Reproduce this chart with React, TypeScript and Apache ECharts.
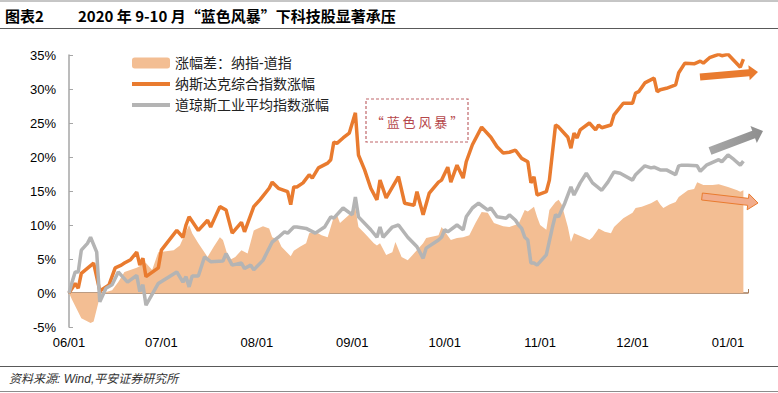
import React, { useEffect, useRef } from 'react';
import * as echarts from 'echarts';

const AREA_NAME = '涨幅差：纳指-道指';
const NASDAQ_NAME = '纳斯达克综合指数涨幅';
const DOW_NAME = '道琼斯工业平均指数涨幅';

const nasdaqDates = [
  '2020-06-01','2020-06-03','2020-06-04','2020-06-05','2020-06-09','2020-06-11','2020-06-14','2020-06-16','2020-06-18','2020-06-19',
  '2020-06-21','2020-06-23','2020-06-24','2020-06-25','2020-06-26','2020-06-30','2020-07-01','2020-07-06','2020-07-08','2020-07-09',
  '2020-07-10','2020-07-13','2020-07-16','2020-07-17','2020-07-20','2020-07-22','2020-07-24','2020-07-27','2020-07-28','2020-07-31',
  '2020-08-02','2020-08-05','2020-08-06','2020-08-08','2020-08-11','2020-08-12','2020-08-13','2020-08-14','2020-08-16','2020-08-18',
  '2020-08-19','2020-08-21','2020-08-24','2020-08-25','2020-08-26','2020-08-27','2020-08-29','2020-08-31','2020-09-02','2020-09-03',
  '2020-09-05','2020-09-07','2020-09-09','2020-09-10','2020-09-12','2020-09-16','2020-09-18','2020-09-21','2020-09-22','2020-09-24',
  '2020-09-26','2020-09-29','2020-09-30','2020-10-02','2020-10-03','2020-10-05','2020-10-07','2020-10-08','2020-10-10','2020-10-13',
  '2020-10-16','2020-10-18','2020-10-20','2020-10-22','2020-10-24','2020-10-26','2020-10-28','2020-10-29','2020-10-30','2020-10-31',
  '2020-11-03','2020-11-04','2020-11-06','2020-11-07','2020-11-10','2020-11-11','2020-11-12','2020-11-13','2020-11-14','2020-11-17',
  '2020-11-19','2020-11-20','2020-11-21','2020-11-24','2020-11-25','2020-11-28','2020-12-01','2020-12-02','2020-12-03','2020-12-05',
  '2020-12-08','2020-12-09','2020-12-10','2020-12-12','2020-12-15','2020-12-16','2020-12-18','2020-12-21','2020-12-23','2020-12-24',
  '2020-12-26','2020-12-29','2020-12-30','2021-01-01','2021-01-05','2021-01-06'
];
const nasdaqValues = [
  0.0, 1.4, 0.7, 2.9, 4.4, 0.3, 1.2, 3.7, 4.1, 4.4,
  4.9, 6.0, 4.1, 5.1, 2.4, 3.7, 6.3, 9.2, 8.2, 10.0,
  11.2, 9.2, 10.7, 9.7, 12.7, 12.2, 8.8, 10.4, 9.0, 12.7,
  13.7, 15.4, 16.3, 15.4, 14.9, 13.0, 15.6, 15.6, 16.2, 17.4,
  16.9, 18.4, 19.1, 19.6, 22.2, 22.0, 22.8, 23.5, 26.5, 20.3,
  18.1, 15.4, 13.7, 16.6, 14.0, 17.1, 13.2, 12.9, 14.9, 11.5,
  14.7, 16.3, 16.6, 18.5, 16.3, 18.8, 16.9, 19.3, 21.8, 24.4,
  22.9, 21.5, 20.6, 20.7, 21.0, 19.8, 19.3, 16.2, 17.1, 14.4,
  14.9, 16.6, 24.7, 24.4, 22.9, 21.3, 23.5, 22.8, 24.0, 25.0,
  24.0, 24.7, 24.3, 24.7, 26.2, 27.9, 27.9, 29.4, 29.6, 30.9,
  31.6, 29.6, 29.9, 30.1, 30.6, 32.4, 33.8, 33.7, 34.1, 33.8,
  34.6, 35.1, 34.9, 35.1, 33.2, 34.4
];

const dowDates = [
  '2020-06-01','2020-06-02','2020-06-03','2020-06-04','2020-06-05','2020-06-07','2020-06-08','2020-06-10','2020-06-11','2020-06-13',
  '2020-06-15','2020-06-17','2020-06-18','2020-06-20','2020-06-23','2020-06-24','2020-06-25','2020-06-26','2020-06-30','2020-07-06',
  '2020-07-08','2020-07-09','2020-07-10','2020-07-11','2020-07-13','2020-07-15','2020-07-17','2020-07-21','2020-07-22','2020-07-24',
  '2020-07-27','2020-07-28','2020-07-30','2020-07-31','2020-08-03','2020-08-06','2020-08-08','2020-08-10','2020-08-11','2020-08-13',
  '2020-08-14','2020-08-17','2020-08-20','2020-08-23','2020-08-25','2020-08-26','2020-08-29','2020-09-01','2020-09-02','2020-09-03',
  '2020-09-07','2020-09-09','2020-09-10','2020-09-11','2020-09-14','2020-09-16','2020-09-19','2020-09-22','2020-09-24','2020-09-25',
  '2020-09-29','2020-09-30','2020-10-01','2020-10-02','2020-10-05','2020-10-07','2020-10-08','2020-10-10','2020-10-12','2020-10-15',
  '2020-10-16','2020-10-18','2020-10-21','2020-10-22','2020-10-24','2020-10-25','2020-10-26','2020-10-27','2020-10-28','2020-10-29',
  '2020-10-30','2020-10-31','2020-11-03','2020-11-05','2020-11-06','2020-11-07','2020-11-09','2020-11-11','2020-11-12','2020-11-14',
  '2020-11-16','2020-11-18','2020-11-21','2020-11-23','2020-11-25','2020-11-27','2020-12-01','2020-12-02','2020-12-05','2020-12-07',
  '2020-12-08','2020-12-10','2020-12-12','2020-12-15','2020-12-16','2020-12-17','2020-12-19','2020-12-22','2020-12-23','2020-12-25',
  '2020-12-29','2020-12-30','2021-01-01','2021-01-03','2021-01-05','2021-01-06'
];
const dowValues = [
  0.0, 1.6, 3.1, 3.1, 6.3, 7.3, 8.2, 6.0, -1.3, 0.7,
  1.2, 3.1, 2.6, 1.6, 2.6, 0.2, 1.2, -1.8, 1.4, 3.1,
  1.6, 2.4, 0.9, 2.5, 2.5, 5.3, 4.6, 4.7, 5.8, 4.1,
  4.4, 3.6, 4.1, 3.4, 4.8, 7.5, 8.2, 9.0, 8.8, 9.7,
  9.7, 9.5, 8.8, 9.7, 11.2, 11.0, 12.5, 11.5, 14.1, 11.2,
  9.3, 8.2, 9.7, 8.2, 9.7, 10.0, 8.2, 6.8, 5.1, 6.6,
  7.8, 8.2, 9.3, 9.0, 10.0, 9.3, 11.2, 12.5, 13.2, 12.2,
  12.5, 11.2, 11.0, 11.5, 10.7, 10.0, 9.5, 8.2, 7.8, 4.4,
  4.4, 4.1, 5.6, 9.7, 11.5, 11.2, 13.2, 15.6, 14.4, 16.2,
  17.6, 16.2, 15.1, 16.3, 17.8, 17.6, 16.6, 17.4, 18.7, 18.4,
  18.5, 18.1, 18.1, 17.4, 18.7, 18.8, 18.8, 18.7, 17.9, 18.8,
  19.6, 19.3, 20.3, 19.6, 18.8, 19.4
];

const spreadDates = [
  '2020-06-01','2020-06-02','2020-06-05','2020-06-08','2020-06-09','2020-06-11','2020-06-12','2020-06-15','2020-06-17','2020-06-19',
  '2020-06-23','2020-06-26','2020-06-28','2020-06-30','2020-07-05','2020-07-07','2020-07-10','2020-07-11','2020-07-13','2020-07-16',
  '2020-07-18','2020-07-20','2020-07-21','2020-07-23','2020-07-25','2020-07-27','2020-07-29','2020-07-31','2020-08-03','2020-08-05',
  '2020-08-06','2020-08-08','2020-08-09','2020-08-12','2020-08-13','2020-08-15','2020-08-17','2020-08-18','2020-08-20','2020-08-22',
  '2020-08-24','2020-08-26','2020-08-27','2020-08-28','2020-08-31','2020-09-02','2020-09-03','2020-09-05','2020-09-08','2020-09-09',
  '2020-09-10','2020-09-12','2020-09-14','2020-09-15','2020-09-17','2020-09-19','2020-09-21','2020-09-24','2020-09-25','2020-09-29',
  '2020-09-30','2020-10-03','2020-10-05','2020-10-07','2020-10-09','2020-10-11','2020-10-13','2020-10-15','2020-10-17','2020-10-20',
  '2020-10-22','2020-10-25','2020-10-27','2020-10-28','2020-10-30','2020-10-31','2020-11-01','2020-11-03','2020-11-04','2020-11-06',
  '2020-11-07','2020-11-08','2020-11-10','2020-11-11','2020-11-12','2020-11-15','2020-11-17','2020-11-18','2020-11-20','2020-11-22',
  '2020-11-24','2020-11-25','2020-11-28','2020-12-01','2020-12-02','2020-12-04','2020-12-07','2020-12-09','2020-12-10','2020-12-11',
  '2020-12-13','2020-12-15','2020-12-16','2020-12-19','2020-12-21','2020-12-22','2020-12-24','2020-12-27','2020-12-29','2021-01-01',
  '2021-01-04','2021-01-05','2021-01-06'
];
const spreadValues = [
  0.0, -1.0, -3.7, -4.4, -4.2, -0.6, 0.0, 0.4, 1.6, 3.1,
  3.7, 4.4, 3.4, 6.0, 6.3, 7.0, 10.0, 8.8, 7.3, 5.3,
  6.8, 8.2, 7.8, 4.8, 5.3, 6.3, 5.8, 9.2, 9.8, 9.5,
  8.2, 7.8, 6.8, 5.4, 6.2, 6.8, 7.3, 8.8, 9.0, 8.5,
  8.2, 11.2, 11.5, 10.3, 11.5, 12.5, 9.7, 8.8, 7.3, 7.0,
  7.3, 5.6, 6.0, 7.5, 5.3, 4.8, 5.8, 7.3, 8.1, 8.5,
  9.7, 7.8, 8.1, 8.2, 8.5, 10.3, 11.9, 11.8, 10.3, 9.8,
  9.7, 10.2, 12.2, 12.0, 12.7, 11.2, 10.0, 9.3, 12.2, 13.4,
  13.7, 13.0, 9.7, 7.5, 8.8, 8.2, 7.8, 8.2, 9.5, 9.0,
  8.8, 9.7, 11.0, 11.8, 12.5, 12.7, 13.2, 13.7, 13.0, 12.5,
  13.0, 13.4, 14.1, 15.1, 15.3, 16.3, 15.9, 15.9, 16.0, 15.6,
  15.1, 14.9, 15.1
];

const yMin = -5;
const yMax = 35;
const yStep = 5;
const xMin = '2020-06-01';
const xMax = '2021-01-07 12:00';

const FONT = '"Liberation Sans", Arial, "Noto Sans CJK SC", sans-serif';
const CJK = '"Liberation Sans", "Noto Sans CJK SC", sans-serif';
const CJK_FIRST = '"Noto Sans CJK SC", sans-serif';

function pair(dates: string[], values: number[]) {
  return dates.map((d, i) => [d, values[i]]);
}

function arrowPts(x1: number, y1: number, x2: number, y2: number, w: number, hw: number, hl: number) {
  const dx = x2 - x1, dy = y2 - y1;
  const L = Math.hypot(dx, dy);
  const ux = dx / L, uy = dy / L;
  const nx = -uy, ny = ux;
  const bx = x2 - ux * hl, by = y2 - uy * hl;
  return [
    [x1 + nx * w / 2, y1 + ny * w / 2],
    [bx + nx * w / 2, by + ny * w / 2],
    [bx + nx * hw / 2, by + ny * hw / 2],
    [x2, y2],
    [bx - nx * hw / 2, by - ny * hw / 2],
    [bx - nx * w / 2, by - ny * w / 2],
    [x1 - nx * w / 2, y1 - ny * w / 2],
  ];
}

export default function App() {
  const ref = useRef<HTMLDivElement>(null);
  useEffect(() => {
    document.body.style.margin = '0';
    const chart = echarts.init(ref.current!, undefined, { renderer: 'svg' });
    const DAY = 86400000;
    const option: any = {
      animation: false,
      backgroundColor: '#fff',
      grid: { left: 69, right: 30, top: 55, bottom: 66, containLabel: false },
      legend: {
        orient: 'vertical',
        left: 125,
        top: 51,
        itemWidth: 38,
        itemHeight: 11,
        itemGap: 7,
        textStyle: { fontSize: 14, color: '#222', fontFamily: CJK },
        data: [
          { name: AREA_NAME, icon: 'roundRect' },
          { name: NASDAQ_NAME, itemStyle: { opacity: 0 }, lineStyle: { width: 4 } },
          { name: DOW_NAME, itemStyle: { opacity: 0 }, lineStyle: { width: 4 } },
        ],
      },
      xAxis: [
        {
          type: 'time',
          min: xMin,
          max: xMax,
          minInterval: 28 * DAY,
          maxInterval: 31 * DAY,
          axisLine: { onZero: true, lineStyle: { color: '#A57B5A', width: 1.5 } },
          axisTick: { show: true, inside: true, length: 4, lineStyle: { color: '#A57B5A' } },
          axisLabel: { show: false },
          splitLine: { show: false },
        },
        {
          type: 'time',
          position: 'bottom',
          min: xMin,
          max: xMax,
          minInterval: 28 * DAY,
          maxInterval: 31 * DAY,
          axisLine: { show: false, onZero: false },
          axisTick: { show: false },
          axisLabel: {
            formatter: '{MM}/{dd}',
            fontSize: 13,
            color: '#000',
            fontFamily: FONT,
            margin: 9,
            showMaxLabel: false,
          },
          splitLine: { show: false },
        },
      ],
      yAxis: {
        type: 'value',
        min: yMin,
        max: yMax,
        interval: yStep,
        axisLine: { show: true, lineStyle: { color: '#A6A6A6', width: 1.5 } },
        axisTick: { show: true, inside: true, length: 4, lineStyle: { color: '#A6A6A6' } },
        splitLine: { show: false },
        axisLabel: { formatter: '{value}%', fontSize: 13, color: '#000', fontFamily: FONT, margin: 13 },
      },
      series: [
        {
          name: AREA_NAME,
          type: 'line',
          xAxisIndex: 0,
          data: pair(spreadDates, spreadValues),
          symbol: 'none',
          lineStyle: { width: 0 },
          itemStyle: { color: '#F3BE93' },
          areaStyle: { color: '#F3BE93', opacity: 1 },
          z: 1,
        },
        {
          name: NASDAQ_NAME,
          type: 'line',
          xAxisIndex: 0,
          data: pair(nasdaqDates, nasdaqValues),
          symbol: 'none',
          itemStyle: { color: '#E97B2F' },
          lineStyle: { color: '#E97B2F', width: 3.5 },
          z: 3,
        },
        {
          name: DOW_NAME,
          type: 'line',
          xAxisIndex: 0,
          data: pair(dowDates, dowValues),
          symbol: 'none',
          itemStyle: { color: '#B4B4B4' },
          lineStyle: { color: '#B4B4B4', width: 3.5 },
          z: 4,
        },
      ],
      graphic: [
        { type: 'line', shape: { x1: 0, y1: 1, x2: 778, y2: 1 }, style: { stroke: '#8C8C8C', lineWidth: 1 } },
        { type: 'line', shape: { x1: 0, y1: 28.5, x2: 778, y2: 28.5 }, style: { stroke: '#595959', lineWidth: 1 } },
        {
          type: 'text', x: 5, y: 15,
          style: { text: '图表2', fill: '#000', font: `bold 15px ${CJK_FIRST}`, textVerticalAlign: 'middle' },
        },
        {
          type: 'text', x: 78, y: 15,
          style: { text: '2020 年 9-10 月“蓝色风暴”下科技股显著承压', fill: '#000', font: `bold 15px ${CJK_FIRST}`, textVerticalAlign: 'middle' },
        },
        { type: 'line', shape: { x1: 0, y1: 366.5, x2: 778, y2: 366.5 }, style: { stroke: '#595959', lineWidth: 1 } },
        {
          type: 'text', x: 9, y: 379,
          style: { text: '资料来源: Wind,平安证券研究所', fill: '#333', font: `italic 12px ${CJK}`, textVerticalAlign: 'middle' },
        },
        { type: 'line', shape: { x1: 0, y1: 391.5, x2: 778, y2: 391.5 }, style: { stroke: '#8C8C8C', lineWidth: 1 } },
        {
          type: 'rect', shape: { x: 366, y: 99, width: 102, height: 43 },
          style: { fill: 'none', stroke: '#C0676A', lineWidth: 1.2, lineDash: [3, 2] }, z: 50,
        },
        {
          type: 'text', x: 417, y: 121,
          style: { text: '“ 蓝 色 风 暴 ”', fill: '#B5474B', font: `13px ${CJK_FIRST}`, textAlign: 'center', textVerticalAlign: 'middle' },
          z: 50,
        },
        {
          type: 'polygon', shape: { points: arrowPts(700, 77, 758, 72, 7, 15, 9) },
          style: { fill: '#E97B2F' }, z: 60,
        },
        {
          type: 'polygon', shape: { points: arrowPts(710, 151, 763, 131, 8, 18, 10) },
          style: {
            fill: new echarts.graphic.LinearGradient(0, 0, 1, 0, [
              { offset: 0, color: '#A8A8A8' },
              { offset: 1, color: '#8E8E8E' },
            ]),
          },
          z: 60,
        },
        {
          type: 'polygon', shape: { points: arrowPts(702, 196.5, 758, 203, 7, 16, 10) },
          style: { fill: '#F2AD8C', stroke: '#E97B2F', lineWidth: 1 }, z: 60,
        },
      ],
    };
    chart.setOption(option);
    return () => chart.dispose();
  }, []);
  return <div ref={ref} style={{ width: 778, height: 393 }} />;
}
